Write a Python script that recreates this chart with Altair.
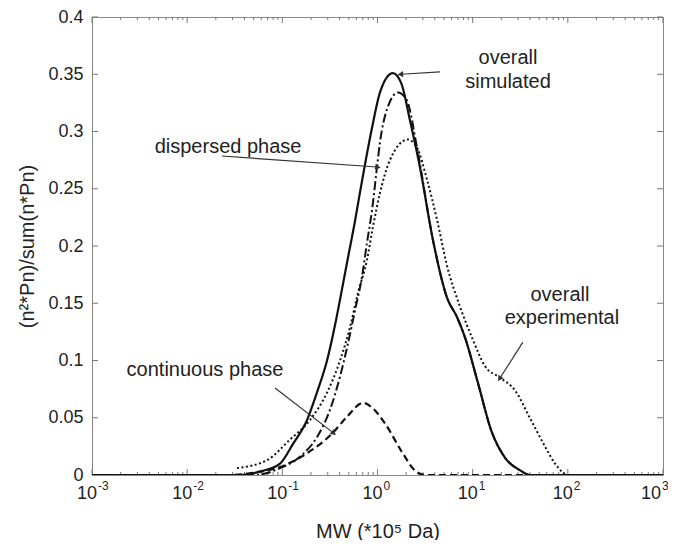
import altair as alt
import pandas as pd

# ---------------- data ----------------
# overall simulated (solid)
sim_mw = [0.001, 0.0359, 0.0583, 0.0946, 0.129, 0.182, 0.231, 0.295, 0.358, 0.423, 0.490,
          0.581, 0.655, 0.757, 0.875, 1.06, 1.45, 1.78, 2.19, 2.79, 3.83, 5.37, 6.84, 8.32,
          11.4, 15.8, 21.9, 31.6, 39.8, 1000]
sim_y = [0, 0, 0.003, 0.010, 0.027, 0.048, 0.072, 0.100, 0.131, 0.162, 0.190,
         0.222, 0.247, 0.276, 0.303, 0.334, 0.351, 0.342, 0.31, 0.269, 0.205, 0.155, 0.138, 0.12,
         0.08, 0.038, 0.015, 0.004, 0, 0]

# dispersed phase (dash-dot)
disp_mw = [0.001, 0.0513, 0.0946, 0.153, 0.231, 0.317, 0.404, 0.490, 0.581, 0.687, 0.776,
           0.875, 0.988, 1.06, 1.29, 1.64, 2.04, 2.60, 3.83, 5.37, 6.84, 8.32, 11.4, 15.8,
           21.9, 31.6, 39.8, 1000]
disp_y = [0, 0, 0.006, 0.016, 0.033, 0.057, 0.086, 0.115, 0.144, 0.173, 0.203,
          0.231, 0.269, 0.29, 0.322, 0.334, 0.327, 0.286, 0.205, 0.155, 0.138, 0.12, 0.08, 0.038,
          0.015, 0.004, 0, 0]

# continuous phase (dashed)
cont_mw = [0.001, 0.0282, 0.049, 0.0946, 0.182, 0.341, 0.479, 0.705, 0.90, 1.20, 1.81,
           2.47, 3.16, 1000]
cont_y = [0, 0, 0.002, 0.007, 0.019, 0.037, 0.051, 0.063, 0.058, 0.045, 0.02,
          0.004, 0, 0]

# overall experimental (dotted)
exp_mw = [0.0334, 0.0692, 0.1205, 0.195, 0.295, 0.404, 0.514, 0.624, 0.776, 0.897, 1.06,
          1.35, 2.09, 2.60, 3.31, 4.22, 5.37, 7.36, 9.84, 13.5, 19.4, 27.8, 39.8, 57.5, 73.3,
          89.1, 97.7]
exp_y = [0.006, 0.013, 0.031, 0.048, 0.072, 0.100, 0.129, 0.159, 0.188, 0.217, 0.246,
         0.275, 0.293, 0.286, 0.258, 0.223, 0.183, 0.147, 0.12, 0.095, 0.085, 0.074, 0.05,
         0.025, 0.01, 0.002, 0]

# axis ticks
x_decades = [0.001, 0.01, 0.1, 1, 10, 100, 1000]
x_exponents = ["-3", "-2", "-1", "0", "1", "2", "3"]
x_minor = [m * d for d in [0.001, 0.01, 0.1, 1, 10, 100] for m in range(2, 10)]
y_ticks = [0, 0.05, 0.1, 0.15, 0.2, 0.25, 0.3, 0.35, 0.4]

# annotations
label_text = ["overall", "simulated", "dispersed phase", "continuous phase", "overall", "experimental"]
label_mw = [23.5, 23.5, 0.0269, 0.0154, 82.6, 86.7]
label_y = [0.364, 0.343, 0.2865, 0.0917, 0.157, 0.137]

arrow_mw = [4.53, 0.0232, 0.0837, 33.7]
arrow_y = [0.352, 0.2786, 0.076, 0.116]
arrow_mw2 = [1.78, 0.988, 0.341, 19.4]
arrow_y2 = [0.350, 0.269, 0.037, 0.0847]
arrow_angle = [267, 100, 130, 213]

W, H = 571, 458
FONT = "Liberation Sans"
INK = "#111111"

xscale = alt.Scale(type="log", domain=[0.001, 1000], nice=False)
yscale = alt.Scale(domain=[0, 0.4], nice=False, zero=False)


def curve(mw, y, dash, width):
    df = pd.DataFrame({"mw": mw, "y": y})
    props = dict(color=INK, strokeWidth=width, interpolate="monotone", clip=True)
    if dash:
        props["strokeDash"] = dash
    return alt.Chart(df).mark_line(**props).encode(
        x=alt.X("mw:Q", scale=xscale), y=alt.Y("y:Q", scale=yscale)
    )


base_x = alt.X(
    "mw:Q", scale=xscale,
    axis=alt.Axis(labels=False, ticks=False, domain=False, grid=False,
                  title="MW (*10⁵ Da)", titleFont=FONT, titleFontSize=20,
                  titleFontWeight="normal", titleColor="#222", titlePadding=46),
)
base_y = alt.Y(
    "y:Q", scale=yscale,
    axis=alt.Axis(values=y_ticks, format=".2~f", tickSize=0, domain=False, grid=False,
                  labelFont=FONT, labelFontSize=18, labelColor="#222", labelPadding=9,
                  title="(n²*Pn)/sum(n*Pn)", titleFont=FONT, titleFontSize=20,
                  titleFontWeight="normal", titleColor="#222", titlePadding=10),
)

frame_df = pd.DataFrame({"mw": [0.001], "y": [0]})
axes_layer = alt.Chart(frame_df).mark_point(opacity=0).encode(x=base_x, y=base_y)

# inward ticks
maj_df = pd.DataFrame({"mw": x_decades, "e": x_exponents})
min_df = pd.DataFrame({"mw": x_minor})
yt_df = pd.DataFrame({"y": y_ticks})
tick_col = "#777777"

xt_major_b = alt.Chart(maj_df).mark_rule(color=tick_col, strokeWidth=1).encode(
    x=alt.X("mw:Q", scale=xscale), y=alt.value(H), y2=alt.value(H - 6))
xt_major_t = alt.Chart(maj_df).mark_rule(color=tick_col, strokeWidth=1).encode(
    x=alt.X("mw:Q", scale=xscale), y=alt.value(0), y2=alt.value(6))
xt_minor_b = alt.Chart(min_df).mark_rule(color=tick_col, strokeWidth=1).encode(
    x=alt.X("mw:Q", scale=xscale), y=alt.value(H), y2=alt.value(H - 3))
xt_minor_t = alt.Chart(min_df).mark_rule(color=tick_col, strokeWidth=1).encode(
    x=alt.X("mw:Q", scale=xscale), y=alt.value(0), y2=alt.value(3))
yt_l = alt.Chart(yt_df).mark_rule(color=tick_col, strokeWidth=1).encode(
    y=alt.Y("y:Q", scale=yscale), x=alt.value(0), x2=alt.value(6))
yt_r = alt.Chart(yt_df).mark_rule(color=tick_col, strokeWidth=1).encode(
    y=alt.Y("y:Q", scale=yscale), x=alt.value(W - 6), x2=alt.value(W))

# x tick labels 10^n (the last one nudged left so it stays inside the page)
inner_df = maj_df.iloc[:-1]
last_df = maj_df.iloc[-1:]


def tick_labels(df, shift):
    b = alt.Chart(df).mark_text(font=FONT, fontSize=18, color="#222", align="center",
                                baseline="middle", dx=-5 + shift).encode(
        x=alt.X("mw:Q", scale=xscale), y=alt.value(H + 19), text=alt.value("10"))
    e = alt.Chart(df).mark_text(font=FONT, fontSize=12, color="#222", align="left",
                                baseline="middle", dx=6 + shift).encode(
        x=alt.X("mw:Q", scale=xscale), y=alt.value(H + 11), text="e:N")
    return [b, e]


xl_layers = tick_labels(inner_df, 0) + tick_labels(last_df, -7)

# curves
solid = curve(sim_mw, sim_y, None, 2.2)
dashdot = curve(disp_mw, disp_y, [9, 3, 2, 3], 2)
dashed = curve(cont_mw, cont_y, [7, 4], 2.2)
dotted = curve(exp_mw, exp_y, [2, 2.5], 2)

# annotations
lab_df = pd.DataFrame({"mw": label_mw, "y": label_y, "t": label_text})
labels = alt.Chart(lab_df).mark_text(font=FONT, fontSize=20, color="#222", align="center",
                                     baseline="middle").encode(
    x=alt.X("mw:Q", scale=xscale), y=alt.Y("y:Q", scale=yscale), text="t:N")

arr_df = pd.DataFrame({"mw": arrow_mw, "y": arrow_y, "mw2": arrow_mw2, "y2": arrow_y2,
                       "ang": arrow_angle})
arrows = alt.Chart(arr_df).mark_rule(color="#333", strokeWidth=1.2).encode(
    x=alt.X("mw:Q", scale=xscale), y=alt.Y("y:Q", scale=yscale),
    x2="mw2:Q", y2="y2:Q")
heads = alt.Chart(arr_df).mark_point(shape="triangle", filled=True, color="#333", size=40,
                                     opacity=1).encode(
    x=alt.X("mw2:Q", scale=xscale), y=alt.Y("y2:Q", scale=yscale),
    angle=alt.Angle("ang:Q", scale=None))

chart = alt.layer(
    axes_layer, xt_major_b, xt_major_t, xt_minor_b, xt_minor_t, yt_l, yt_r,
    *xl_layers, dotted, dashed, dashdot, solid, arrows, heads, labels,
).properties(
    width=W, height=H,
    autosize=alt.AutoSizeParams(type="none"),
    padding={"left": 84, "top": 9, "right": 5, "bottom": 65},
    background="white",
).configure_view(stroke="#888888", strokeWidth=1)

chart.save("out.html", embed_options={"renderer": "svg", "actions": False})
